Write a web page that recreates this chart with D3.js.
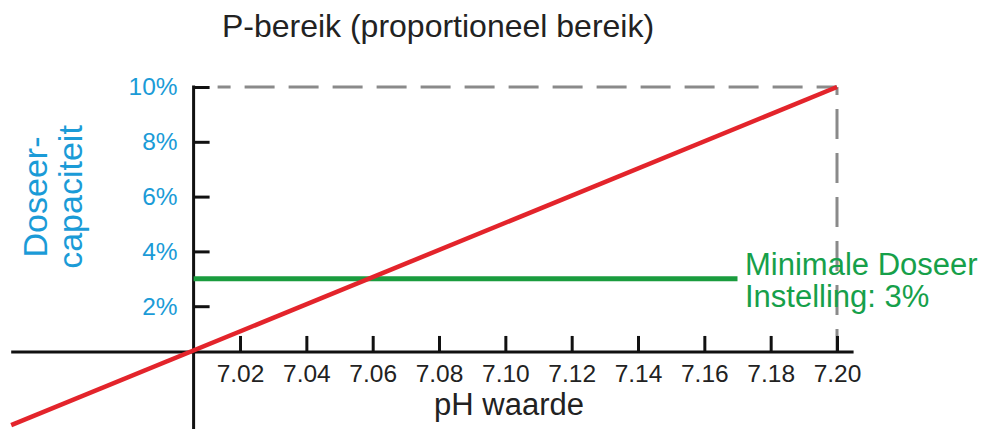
<!DOCTYPE html>
<html>
<head>
<meta charset="utf-8">
<script src="https://cdn.jsdelivr.net/npm/d3@7"></script>
<style>
    body { margin: 0; background: #fff; }
    svg { display: block; font-family: "Liberation Sans", Arial, sans-serif; }
    .axis text { font-size: 24.5px; }
</style>
</head>
<body>
<div id="chart"></div>
<script>

// tick labels
const xTicks = [7.02, 7.04, 7.06, 7.08, 7.10, 7.12, 7.14, 7.16, 7.18, 7.20];
const yTicks = [2, 4, 6, 8, 10];

// where the two axes cross in the drawing (pH, %)
const origin = [7.006, 0.33];
const xExtent = [6.951, 7.205];
const yExtent = [-2.5, 10];

// P-band line (pH, %)
const pBand = [[6.951, -2.34], [7.20, 10]];
// minimal dosing setting (pH, %)
const minDose = [[7.006, 3], [7.17, 3]];
// max corner of the band
const maxCorner = [7.20, 10];

const width = 986;
const height = 429;

var svg = d3.select("#chart")
    .append("svg")
    .attr("width", width)
    .attr("height", height);

var xScale = d3.scaleLinear()
    .domain([7.00, 7.20])
    .range([173.7, 837]);

var yScale = d3.scaleLinear()
    .domain([0, 10])
    .range([361, 87]);

const blue = "#1b9bd7";
const green = "#16a04a";

// grey dashed box edges
svg.append("line")
    .attr("x1", xScale(origin[0]) + 24)
    .attr("x2", xScale(maxCorner[0]))
    .attr("y1", yScale(maxCorner[1]))
    .attr("y2", yScale(maxCorner[1]))
    .attr("stroke", "#8a8a8a")
    .attr("stroke-width", 3)
    .attr("stroke-dasharray", "30,14")
    .attr("stroke-dashoffset", 17);

svg.append("line")
    .attr("x1", xScale(maxCorner[0]))
    .attr("x2", xScale(maxCorner[0]))
    .attr("y1", yScale(maxCorner[1]))
    .attr("y2", yScale(origin[1]))
    .attr("stroke", "#8a8a8a")
    .attr("stroke-width", 3)
    .attr("stroke-dasharray", "30,14")
    .attr("stroke-dashoffset", 22);

// axes
var xAxis = d3.axisBottom(xScale)
    .tickValues(xTicks)
    .tickFormat(d3.format(".2f"))
    .tickSize(-16)
    .tickSizeOuter(0)
    .tickPadding(13);

var yAxis = d3.axisLeft(yScale)
    .tickValues(yTicks)
    .tickFormat(d => d + "%")
    .tickSize(-16)
    .tickSizeOuter(0)
    .tickPadding(16);

let xGroup = svg.append("g")
    .attr("class", "axis")
    .attr("transform", "translate(0," + yScale(origin[1]) + ")")
    .call(xAxis);

let yGroup = svg.append("g")
    .attr("class", "axis")
    .attr("transform", "translate(" + xScale(origin[0]) + ",0)")
    .call(yAxis);

// axis lines are drawn by hand so they can run past the tick range
xGroup.select(".domain").remove();
yGroup.select(".domain").remove();
xGroup.selectAll(".tick line").attr("stroke", "#111").attr("stroke-width", 3);
yGroup.selectAll(".tick line").attr("stroke", "#111").attr("stroke-width", 3);
xGroup.selectAll(".tick text").attr("fill", "#222");
yGroup.selectAll(".tick text").attr("fill", blue);

svg.append("line")
    .attr("x1", xScale(xExtent[0]))
    .attr("x2", xScale(xExtent[1]))
    .attr("y1", yScale(origin[1]))
    .attr("y2", yScale(origin[1]))
    .attr("stroke", "#111")
    .attr("stroke-width", 3);

svg.append("line")
    .attr("x1", xScale(origin[0]))
    .attr("x2", xScale(origin[0]))
    .attr("y1", yScale(yExtent[0]))
    .attr("y2", yScale(yExtent[1]) - 1.5)
    .attr("stroke", "#111")
    .attr("stroke-width", 3);

var line = d3.line()
    .x(d => xScale(d[0]))
    .y(d => yScale(d[1]));

svg.append("path")
    .datum(minDose)
    .attr("d", line)
    .attr("fill", "none")
    .attr("stroke", "#1a9c3e")
    .attr("stroke-width", 5);

svg.append("path")
    .datum(pBand)
    .attr("d", line)
    .attr("fill", "none")
    .attr("stroke", "#e3242b")
    .attr("stroke-width", 4.5);

// texts
svg.append("text")
    .attr("x", 438)
    .attr("y", 37)
    .style("text-anchor", "middle")
    .style("font-size", "32px")
    .attr("fill", "#222")
    .text("P-bereik (proportioneel bereik)");

svg.append("text")
    .attr("x", 509)
    .attr("y", 415)
    .style("text-anchor", "middle")
    .style("font-size", "31px")
    .attr("fill", "#222")
    .text("pH waarde");

var yLabel = svg.append("text")
    .attr("transform", "translate(47,197) rotate(-90)")
    .style("text-anchor", "middle")
    .style("font-size", "34px")
    .attr("fill", blue);

yLabel.append("tspan").attr("x", 0).attr("y", 0).text("Doseer-");
yLabel.append("tspan").attr("x", 0).attr("y", 35).text("capaciteit");

var minLabel = svg.append("text")
    .style("font-size", "31px")
    .attr("fill", green);

minLabel.append("tspan").attr("x", 745).attr("y", 275).text("Minimale Doseer");
minLabel.append("tspan").attr("x", 745).attr("y", 307).text("Instelling: 3%");

</script>
</body>
</html>
